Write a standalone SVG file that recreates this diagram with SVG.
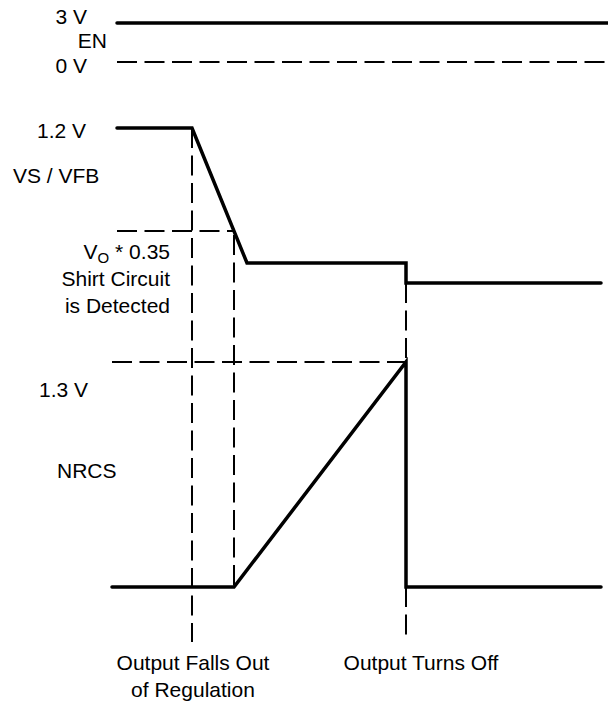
<svg xmlns="http://www.w3.org/2000/svg" width="608" height="702" viewBox="0 0 608 702">
<style>
.s{fill:none;stroke:#000;stroke-width:3.5;stroke-linejoin:miter;stroke-linecap:round}
.d{fill:none;stroke:#000;stroke-width:2;stroke-dasharray:20 7.5}
text{font-family:"Liberation Sans",Arial,sans-serif;font-size:21px;fill:#000}
.r{text-anchor:end}
.m{text-anchor:middle}
</style>
<rect width="608" height="702" fill="#fff"/>
<g id="connectors">
<path class="d" d="M117 62H608"/>
<path class="d" d="M117 231H234"/>
<path class="d" d="M112 362H406"/>
<path class="d" d="M192 128V642"/>
<path class="d" d="M234 235V587"/>
<path class="d" d="M406 283V362"/>
<path class="d" d="M406 587V637"/>
</g>
<g id="en-signal">
<path class="s" d="M117 23H608"/>
<text class="r" x="87" y="24">3 V</text>
<text class="r" x="107" y="48">EN</text>
<text class="r" x="87" y="73">0 V</text>
</g>
<g id="vs-signal">
<path class="s" d="M117 128H192L247 263H406V283H601"/>
<text class="r" x="86" y="138">1.2 V</text>
<text x="13" y="183">VS / VFB</text>
<text class="r" x="170" y="259">V<tspan font-size="15" dy="4">O</tspan><tspan dy="-4"> * 0.35</tspan></text>
<text class="r" x="170" y="286">Shirt Circuit</text>
<text class="r" x="170" y="313">is Detected</text>
</g>
<g id="nrcs-signal">
<path class="s" d="M112 587H234L406 362V587H601"/>
<text x="39" y="397">1.3 V</text>
<text x="57" y="478">NRCS</text>
</g>
<g id="events">
<text class="m" x="193" y="670">Output Falls Out</text>
<text class="m" x="193" y="697">of Regulation</text>
<text class="m" x="421" y="670">Output Turns Off</text>
</g>
</svg>
